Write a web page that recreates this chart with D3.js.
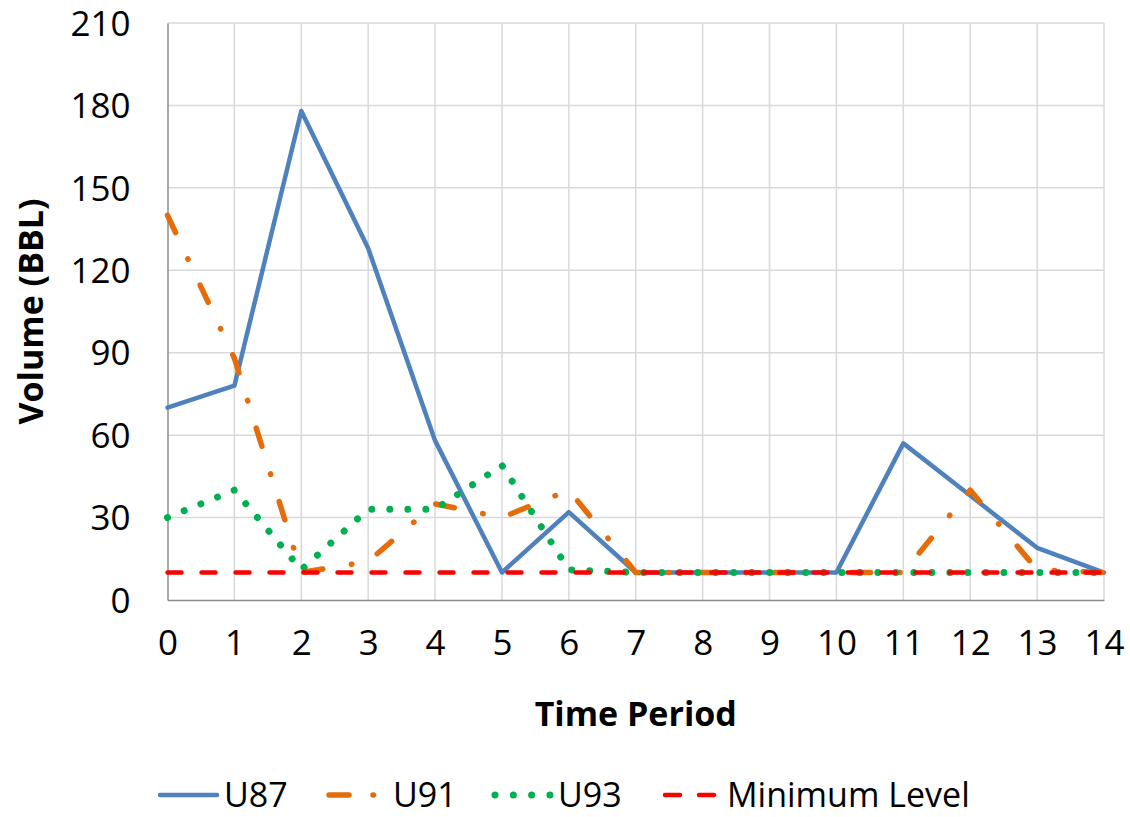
<!DOCTYPE html>
<html>
<head>
<meta charset="utf-8">
<script src="https://cdn.jsdelivr.net/npm/d3@7"></script>
<style>
  html, body { margin: 0; padding: 0; background: #fff; }
  svg { display: block; }
  text { font-family: "Open Sans", "Noto Sans", sans-serif; fill: #000; }
</style>
</head>
<body>
<svg id="chart" width="1130" height="817"></svg>
<script>
// Tank volumes per time period
const periods = [0, 1, 2, 3, 4, 5, 6, 7, 8, 9, 10, 11, 12, 13, 14];
const u87 = [70, 78, 178, 128, 58, 10, 32, 10, 10, 10, 10, 57, 38, 19, 10];
const u91 = [140, 88, 10, 14, 35, 30, 40, 10, 10, 10, 10, 10, 40, 11, 10];
const u93 = [30, 40, 11, 33, 33, 49, 11, 10, 10, 10, 10, 10, 10, 10, 10];
const minimumLevel = [10, 10, 10, 10, 10, 10, 10, 10, 10, 10, 10, 10, 10, 10, 10];
const yTicks = [0, 30, 60, 90, 120, 150, 180, 210];
const seriesNames = ["U87", "U91", "U93", "Minimum Level"];

const svg = d3.select("#chart");

const plot = { left: 167.5, right: 1104, top: 23, bottom: 600 };

const x = d3.scaleLinear().domain([0, 14]).range([plot.left, plot.right]);
const y = d3.scaleLinear().domain([0, 210]).range([plot.bottom, plot.top]);

// Gridlines
const grid = svg.append("g");
grid.selectAll("line.h")
  .data(yTicks.filter(d => d > 0))
  .join("line")
  .attr("x1", plot.left).attr("x2", plot.right)
  .attr("y1", d => y(d)).attr("y2", d => y(d))
  .attr("stroke", "#d9d9d9").attr("stroke-width", 1.5);
grid.selectAll("line.v")
  .data(periods.filter(d => d > 0))
  .join("line")
  .attr("x1", d => x(d)).attr("x2", d => x(d))
  .attr("y1", plot.top).attr("y2", plot.bottom)
  .attr("stroke", "#d9d9d9").attr("stroke-width", 1.5);

// Axes
const yAxis = d3.axisLeft(y).tickValues(yTicks).tickSize(0).tickPadding(37);
const gy = svg.append("g").attr("transform", `translate(${plot.left},0)`).call(yAxis);
gy.select(".domain").attr("stroke", "#8c8c8c").attr("stroke-width", 1.5);
gy.selectAll("text").style("font-size", "35px").attr("dy", "0.35em");

const xAxis = d3.axisBottom(x).tickValues(periods).tickSize(0).tickPadding(30).tickFormat(d3.format("d"));
const gx = svg.append("g").attr("transform", `translate(0,${plot.bottom})`).call(xAxis);
gx.select(".domain").attr("stroke", "#8c8c8c").attr("stroke-width", 1.5);
gx.selectAll("text").style("font-size", "35px");

// Axis titles
svg.append("text")
  .attr("transform", `translate(43,${(plot.top + plot.bottom) / 2}) rotate(-90)`)
  .attr("text-anchor", "middle")
  .style("font-size", "34px").style("font-weight", "bold")
  .text("Volume (BBL)");
svg.append("text")
  .attr("x", (plot.left + plot.right) / 2).attr("y", 726)
  .attr("text-anchor", "middle")
  .style("font-size", "34px").style("font-weight", "bold")
  .text("Time Period");

// Series styling
const styles = [
  { color: "#4f81bd", width: 4.5, dash: null, cap: "round" },
  { color: "#e46c0a", width: 5.5, dash: "19,29,0.5,28.5", cap: "round" },
  { color: "#00b050", width: 7, dash: "0.01,18", cap: "round" },
  { color: "#ff0000", width: 4.5, dash: "14,20", cap: "round" }
];
const seriesValues = [u87, u91, u93, minimumLevel];

const line = d3.line().x((d, i) => x(periods[i])).y(d => y(d));

const lines = svg.append("g");
seriesValues.forEach((vals, k) => {
  const s = styles[k];
  lines.append("path")
    .datum(vals)
    .attr("d", line)
    .attr("fill", "none")
    .attr("stroke", s.color)
    .attr("stroke-width", s.width)
    .attr("stroke-linecap", s.cap)
    .attr("stroke-linejoin", "round")
    .attr("stroke-dasharray", s.dash);
});

// Legend
const legendY = 795;
const legend = svg.append("g");
const legendItems = [
  { sx1: 160, sx2: 217, dash: null, tx: 224 },
  { sx1: 329, sx2: 378, dash: "20,24,0.5,30", tx: 393 },
  { sx1: 495, sx2: 552, dash: "0.01,18.3", tx: 558 },
  { sx1: 665, sx2: 714, dash: "15,19", tx: 727 }
];
legendItems.forEach((it, k) => {
  const s = styles[k];
  legend.append("line")
    .attr("x1", it.sx1).attr("x2", it.sx2)
    .attr("y1", legendY).attr("y2", legendY)
    .attr("stroke", s.color)
    .attr("stroke-width", s.width)
    .attr("stroke-linecap", s.cap)
    .attr("stroke-dasharray", it.dash);
  legend.append("text")
    .attr("x", it.tx).attr("y", legendY)
    .attr("dy", "0.34em")
    .style("font-size", "34px")
    .text(seriesNames[k]);
});
</script>
</body>
</html>
